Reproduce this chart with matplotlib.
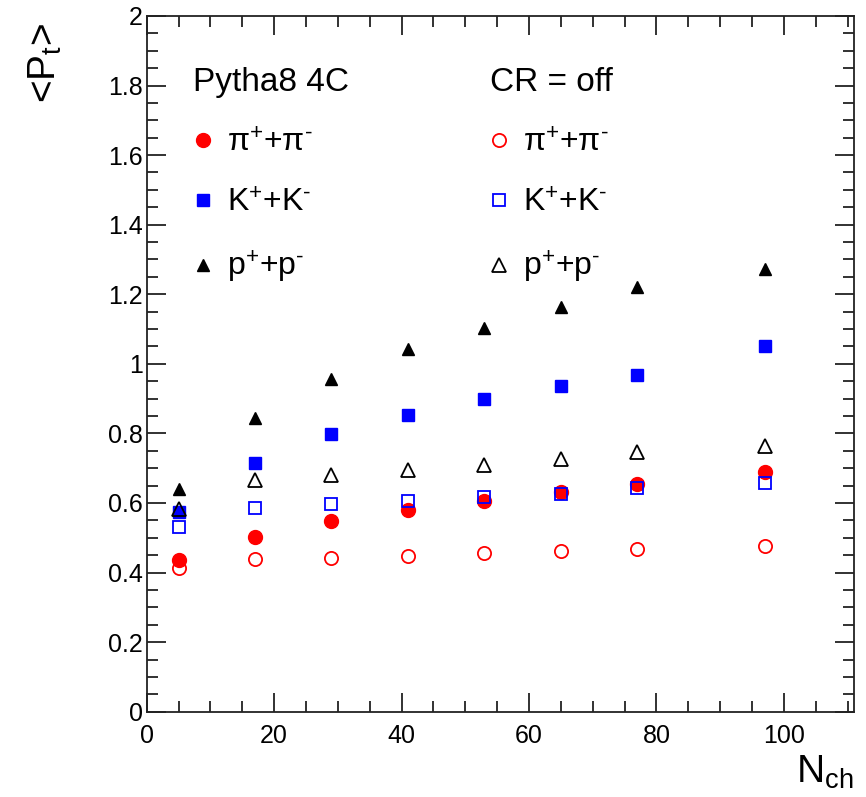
import numpy as np
import matplotlib
matplotlib.use("Agg")
import matplotlib.pyplot as plt
from matplotlib.ticker import MultipleLocator

plt.rcParams["font.family"] = ["Liberation Sans", "DejaVu Sans"]
plt.rcParams["mathtext.fontset"] = "custom"
plt.rcParams["mathtext.rm"] = "Liberation Sans"
plt.rcParams["mathtext.it"] = "Liberation Sans"

# multiplicity bins
nch = [5, 17, 29, 41, 53, 65, 77, 97]

# CR on (filled markers)
pi_on = [0.436, 0.503, 0.549, 0.580, 0.607, 0.631, 0.654, 0.690]
k_on = [0.575, 0.714, 0.797, 0.852, 0.898, 0.937, 0.967, 1.051]
p_on = [0.639, 0.843, 0.957, 1.042, 1.102, 1.162, 1.222, 1.272]

# CR off (open markers)
pi_off = [0.412, 0.439, 0.441, 0.448, 0.457, 0.462, 0.468, 0.477]
k_off = [0.532, 0.587, 0.597, 0.607, 0.616, 0.625, 0.642, 0.657]
p_off = [0.582, 0.666, 0.681, 0.695, 0.709, 0.726, 0.746, 0.764]

labels = ["π$^{+}$+π$^{\\text{-}}$", "K$^{+}$+K$^{\\text{-}}$", "p$^{+}$+p$^{\\text{-}}$"]

fig = plt.figure(figsize=(8.66, 7.97), dpi=100)
ax = fig.add_axes([0.1694, 0.107, 0.8167, 0.873])

h1, = ax.plot(nch, pi_on, "o", color="red", ms=10, mec="red", ls="none")
h2, = ax.plot(nch, k_on, "s", color="blue", ms=9, mec="blue", ls="none")
h3, = ax.plot(nch, p_on, "^", color="black", ms=8, ls="none")

h4, = ax.plot(nch, pi_off, "o", mfc="none", mec="red", ms=9.5, mew=1.3, ls="none")
h5, = ax.plot(nch, k_off, "s", mfc="none", mec="blue", ms=9, mew=1.3, ls="none")
h6, = ax.plot(nch, p_off, "^", mfc="none", mec="black", ms=10, mew=1.3, ls="none")

ax.set_xlim(0, 111)
ax.set_ylim(0, 2)

ax.xaxis.set_major_locator(MultipleLocator(20))
ax.xaxis.set_minor_locator(MultipleLocator(5))
ax.yaxis.set_major_locator(MultipleLocator(0.2))
ax.yaxis.set_minor_locator(MultipleLocator(0.05))
ax.yaxis.set_major_formatter(plt.FuncFormatter(lambda v, p: f"{v:g}"))

ax.tick_params(which="both", direction="in", top=True, right=True, width=1.3, color="#222222")
ax.tick_params(which="major", length=14)
ax.tick_params(which="minor", length=8)
ax.tick_params(axis="both", which="major", labelsize=18)
ax.tick_params(axis="x", which="major", pad=9)
ax.tick_params(axis="y", which="major", pad=3)
for sp in ax.spines.values():
    sp.set_linewidth(1.3)
    sp.set_color("#222222")

leg_kw = dict(loc="upper left", frameon=False, fontsize=23, title_fontsize=24,
              alignment="left", handlelength=0.6, handletextpad=0.45,
              labelspacing=0.95, borderaxespad=0)
leg1 = ax.legend([h1, h2, h3], labels, title="Pytha8 4C",
                 bbox_to_anchor=(0.048, 0.945), **leg_kw)
ax.add_artist(leg1)
ax.legend([h4, h5, h6], labels, title="CR = off",
          bbox_to_anchor=(0.467, 0.945), **leg_kw)

fig.text(0.052, 0.972, "<P$_t$>", rotation=90, ha="center", va="top", fontsize=28)
fig.text(0.985, 0.008, "N$_{ch}$", ha="right", va="bottom", fontsize=28)

fig.savefig("out.png", dpi=100)
